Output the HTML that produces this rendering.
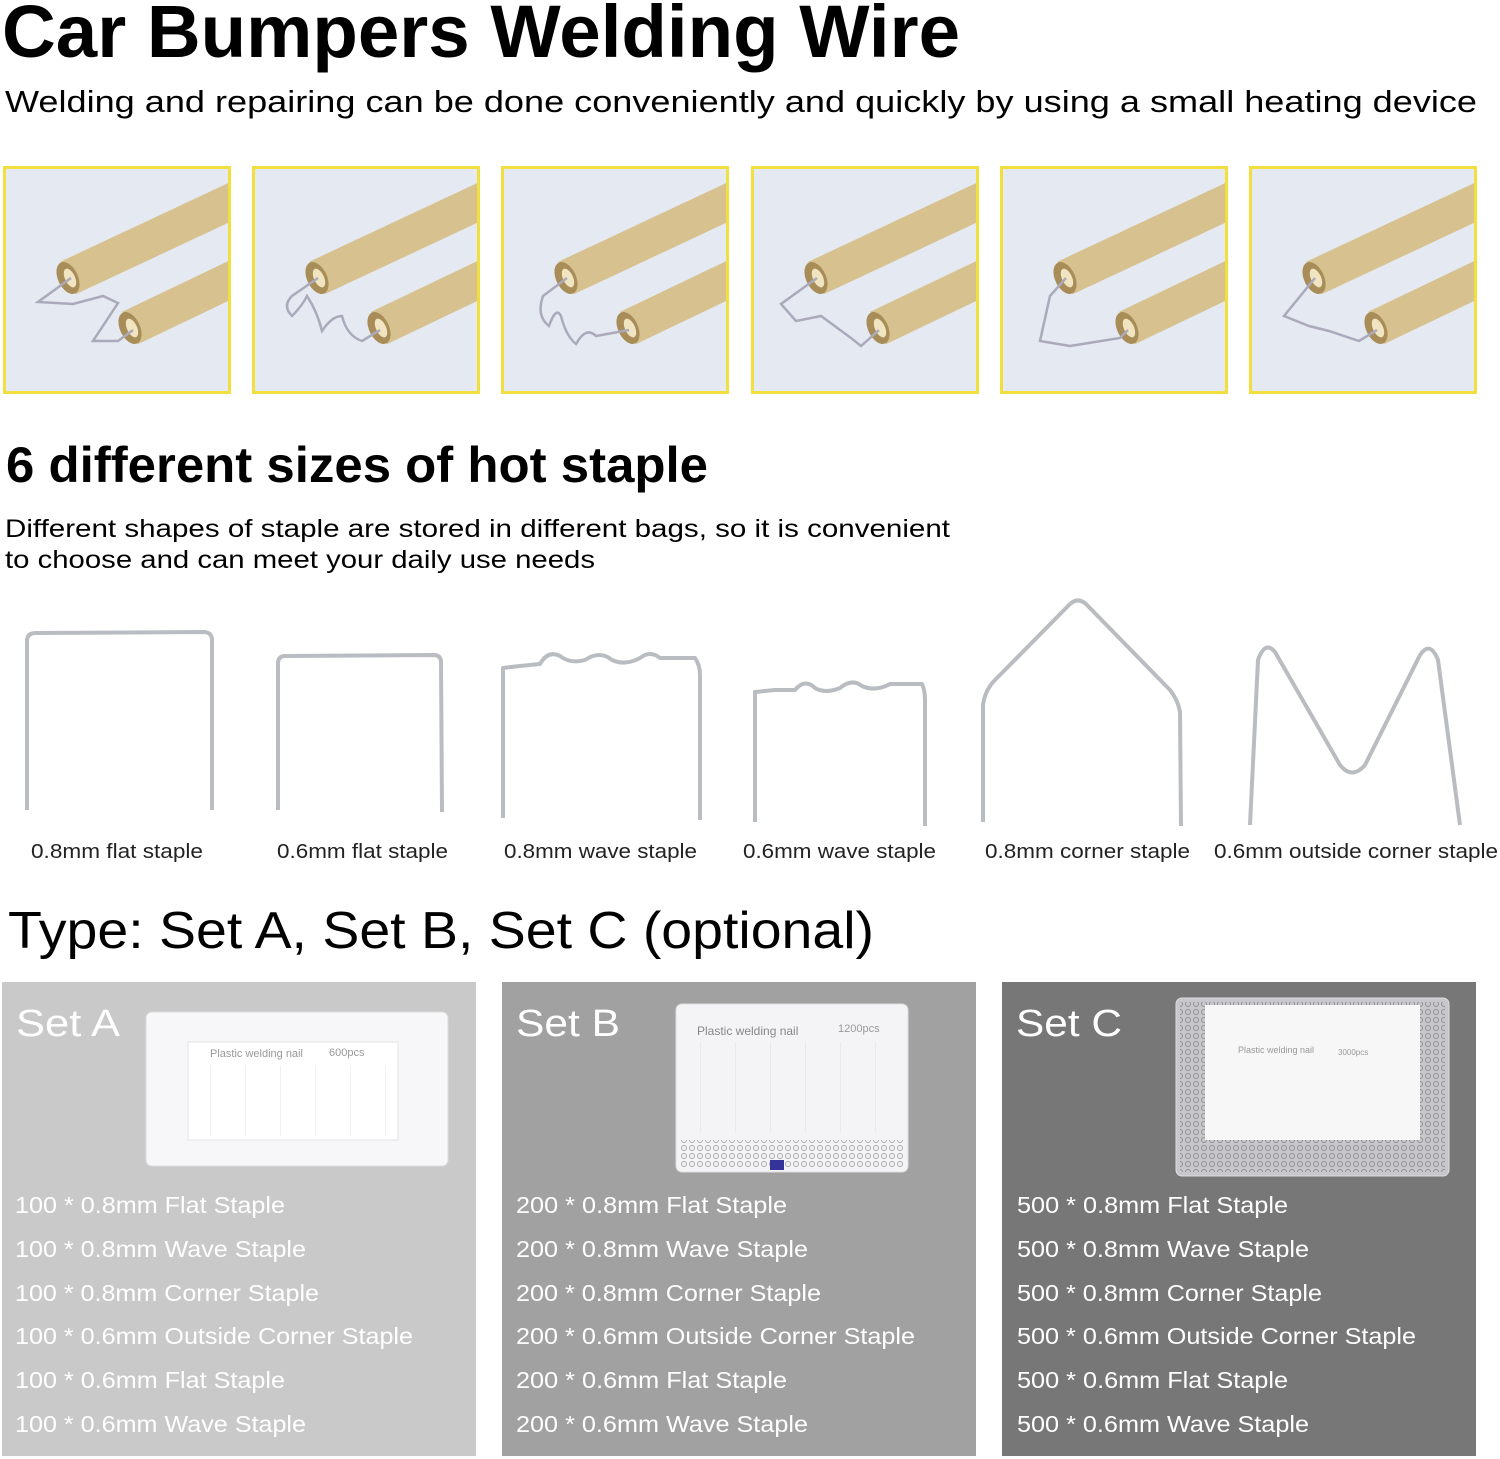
<!DOCTYPE html>
<html><head><meta charset="utf-8"><style>
body{margin:0;background:#fff;width:1500px;height:1459px;overflow:hidden}
svg{display:block}
text{font-family:"Liberation Sans",sans-serif}
</style></head><body>
<svg width="1500" height="1459" viewBox="0 0 1500 1459" xmlns="http://www.w3.org/2000/svg">
<defs>
<g id="rods">
<line x1="65" y1="112" x2="240" y2="30" stroke="#d6c18f" stroke-width="36"/>
<ellipse cx="65" cy="112" rx="10" ry="17" transform="rotate(-25 65 112)" fill="#a88d58"/>
<ellipse cx="67" cy="112" rx="5" ry="10" transform="rotate(-25 67 112)" fill="#f1e4c0"/>
<line x1="127" y1="162" x2="240" y2="108" stroke="#d6c18f" stroke-width="36"/>
<ellipse cx="127" cy="162" rx="10" ry="17" transform="rotate(-25 127 162)" fill="#a88d58"/>
<ellipse cx="129" cy="162" rx="5" ry="10" transform="rotate(-25 129 162)" fill="#f1e4c0"/>
</g>
<clipPath id="tc"><rect x="0" y="0" width="228" height="228"/></clipPath>
<pattern id="cols" width="35" height="100" patternUnits="userSpaceOnUse"><line x1="0" y1="0" x2="0" y2="100" stroke="#e0e0e0"/></pattern>
<pattern id="nails" width="8" height="8" patternUnits="userSpaceOnUse"><circle cx="4" cy="4" r="2.5" fill="none" stroke="#777" stroke-width="1"/></pattern>
</defs>

<text x="2" y="57" font-size="74" font-weight="bold" textLength="958" lengthAdjust="spacingAndGlyphs">Car Bumpers Welding Wire</text>
<text x="5" y="112" font-size="31" textLength="1472" lengthAdjust="spacingAndGlyphs">Welding and repairing can be done conveniently and quickly by using a small heating device</text>

<g>
<g transform="translate(3,166)"><rect width="228" height="228" fill="#e5e9f2"/><g clip-path="url(#tc)"><use href="#rods"/><path d="M68 112 L35 136 L70 138 L100 130 L115 137 L90 175 L115 175 L130 164" fill="none" stroke="#aab" stroke-width="2.5"/></g><rect x="1.5" y="1.5" width="225" height="225" fill="none" stroke="#f0df3c" stroke-width="3"/></g>
<g transform="translate(252,166)"><rect width="228" height="228" fill="#e5e9f2"/><g clip-path="url(#tc)"><use href="#rods"/><path d="M66 112 L40 130 Q30 140 40 150 Q50 140 55 130 Q65 145 70 165 Q80 150 90 150 Q95 170 110 175 L128 164" fill="none" stroke="#aab" stroke-width="2.5"/></g><rect x="1.5" y="1.5" width="225" height="225" fill="none" stroke="#f0df3c" stroke-width="3"/></g>
<g transform="translate(501,166)"><rect width="228" height="228" fill="#e5e9f2"/><g clip-path="url(#tc)"><use href="#rods"/><path d="M66 112 L42 130 Q35 150 48 160 Q55 140 60 150 Q65 170 75 178 Q85 160 95 170 L128 164" fill="none" stroke="#aab" stroke-width="2.5"/></g><rect x="1.5" y="1.5" width="225" height="225" fill="none" stroke="#f0df3c" stroke-width="3"/></g>
<g transform="translate(751,166)"><rect width="228" height="228" fill="#e5e9f2"/><g clip-path="url(#tc)"><use href="#rods"/><path d="M66 112 L30 138 L45 155 L70 150 L100 172 L110 180 L128 164" fill="none" stroke="#aab" stroke-width="2.5"/></g><rect x="1.5" y="1.5" width="225" height="225" fill="none" stroke="#f0df3c" stroke-width="3"/></g>
<g transform="translate(1000,166)"><rect width="228" height="228" fill="#e5e9f2"/><g clip-path="url(#tc)"><use href="#rods"/><path d="M66 112 L50 130 L40 175 L70 180 L120 172 L128 164" fill="none" stroke="#aab" stroke-width="2.5"/></g><rect x="1.5" y="1.5" width="225" height="225" fill="none" stroke="#f0df3c" stroke-width="3"/></g>
<g transform="translate(1249,166)"><rect width="228" height="228" fill="#e5e9f2"/><g clip-path="url(#tc)"><use href="#rods"/><path d="M66 112 L35 150 L60 160 L80 165 L110 175 L128 164" fill="none" stroke="#aab" stroke-width="2.5"/></g><rect x="1.5" y="1.5" width="225" height="225" fill="none" stroke="#f0df3c" stroke-width="3"/></g>
</g>

<text x="6" y="482" font-size="50" font-weight="bold" textLength="702" lengthAdjust="spacingAndGlyphs">6 different sizes of hot staple</text>
<text x="5" y="537" font-size="25" textLength="945" lengthAdjust="spacingAndGlyphs">Different shapes of staple are stored in different bags, so it is convenient</text>
<text x="5" y="568" font-size="25" textLength="590" lengthAdjust="spacingAndGlyphs">to choose and can meet your daily use needs</text>

<g fill="none" stroke="#b9bcc0" stroke-width="4" stroke-linejoin="round">
<path d="M27 810 L27 640 Q28 633 35 633 L205 632 Q212 633 212 640 L212 810"/>
<path d="M278 810 L278 662 Q279 656 285 656 L435 655 Q441 656 441 662 L442 812"/>
<path d="M503 818 L503 668 L520 666 L540 664 Q548 650 560 656 Q570 664 585 660 Q600 650 612 660 Q625 666 640 658 Q650 650 660 658 L695 658 Q700 665 700 675 L700 820"/>
<path d="M755 822 L755 692 L775 690 L795 690 Q805 678 815 688 Q825 694 840 688 Q852 678 862 686 Q875 692 890 684 L922 684 Q925 690 925 700 L925 826"/>
<path d="M983 822 L983 705 Q985 690 995 680 L1070 604 Q1078 597 1086 604 L1170 690 Q1178 700 1180 712 L1181 826"/>
<path d="M1250 825 L1258 660 Q1265 640 1275 652 L1340 765 Q1352 780 1365 765 L1420 655 Q1430 640 1438 660 L1460 825"/>
</g>
<g font-size="20" fill="#222">
<text x="31" y="858" textLength="172" lengthAdjust="spacingAndGlyphs">0.8mm flat staple</text>
<text x="277" y="858" textLength="171" lengthAdjust="spacingAndGlyphs">0.6mm flat staple</text>
<text x="504" y="858" textLength="193" lengthAdjust="spacingAndGlyphs">0.8mm wave staple</text>
<text x="743" y="858" textLength="193" lengthAdjust="spacingAndGlyphs">0.6mm wave staple</text>
<text x="985" y="858" textLength="205" lengthAdjust="spacingAndGlyphs">0.8mm corner staple</text>
<text x="1214" y="858" textLength="284" lengthAdjust="spacingAndGlyphs">0.6mm outside corner staple</text>
</g>

<text x="8" y="948" font-size="52" textLength="866" lengthAdjust="spacingAndGlyphs">Type: Set A, Set B, Set C (optional)</text>

<rect x="2" y="982" width="474" height="474" fill="#c9c9c9"/>
<rect x="502" y="982" width="474" height="474" fill="#a1a1a1"/>
<rect x="1002" y="982" width="474" height="474" fill="#777"/>

<rect x="146" y="1012" width="302" height="154" rx="6" fill="#f7f7f9" stroke="#ddd"/>
<rect x="188" y="1042" width="210" height="98" fill="#fff" stroke="#e3e3e3"/>
<rect x="198" y="1066" width="210" height="70" fill="url(#cols)"/>
<text x="210" y="1057" font-size="11" fill="#999">Plastic welding nail</text><text x="329" y="1056" font-size="11" fill="#999">600pcs</text>
<rect x="676" y="1004" width="232" height="168" rx="6" fill="#f4f4f6" stroke="#ddd"/>
<rect x="680" y="1140" width="224" height="28" fill="url(#nails)" opacity="0.6"/>
<rect x="686" y="1042" width="220" height="90" fill="url(#cols)"/>
<rect x="770" y="1160" width="14" height="10" fill="#33339a"/>
<text x="697" y="1035" font-size="12" fill="#888">Plastic welding nail</text><text x="838" y="1032" font-size="11" fill="#999">1200pcs</text>
<rect x="1176" y="998" width="273" height="178" rx="6" fill="#c8c8cc" stroke="#ddd"/>
<rect x="1180" y="1002" width="265" height="170" fill="url(#nails)" opacity="0.7"/>
<rect x="1205" y="1005" width="215" height="135" fill="#f7f7f7"/>
<text x="1238" y="1053" font-size="9" fill="#999">Plastic welding nail</text><text x="1338" y="1055" font-size="8" fill="#999">3000pcs</text>

<g fill="#fff" font-size="38">
<text x="16" y="1036" textLength="104" lengthAdjust="spacingAndGlyphs">Set A</text>
<text x="516" y="1036" textLength="104" lengthAdjust="spacingAndGlyphs">Set B</text>
<text x="1016" y="1036" textLength="106" lengthAdjust="spacingAndGlyphs">Set C</text>
</g>
<g fill="#fff" font-size="23">
<text x="15" y="1213" textLength="270" lengthAdjust="spacingAndGlyphs">100 * 0.8mm Flat Staple</text>
<text x="15" y="1257" textLength="291" lengthAdjust="spacingAndGlyphs">100 * 0.8mm Wave Staple</text>
<text x="15" y="1301" textLength="304" lengthAdjust="spacingAndGlyphs">100 * 0.8mm Corner Staple</text>
<text x="15" y="1344" textLength="398" lengthAdjust="spacingAndGlyphs">100 * 0.6mm Outside Corner Staple</text>
<text x="15" y="1388" textLength="270" lengthAdjust="spacingAndGlyphs">100 * 0.6mm Flat Staple</text>
<text x="15" y="1432" textLength="291" lengthAdjust="spacingAndGlyphs">100 * 0.6mm Wave Staple</text>
<text x="516" y="1213" textLength="271" lengthAdjust="spacingAndGlyphs">200 * 0.8mm Flat Staple</text>
<text x="516" y="1257" textLength="292" lengthAdjust="spacingAndGlyphs">200 * 0.8mm Wave Staple</text>
<text x="516" y="1301" textLength="305" lengthAdjust="spacingAndGlyphs">200 * 0.8mm Corner Staple</text>
<text x="516" y="1344" textLength="399" lengthAdjust="spacingAndGlyphs">200 * 0.6mm Outside Corner Staple</text>
<text x="516" y="1388" textLength="271" lengthAdjust="spacingAndGlyphs">200 * 0.6mm Flat Staple</text>
<text x="516" y="1432" textLength="292" lengthAdjust="spacingAndGlyphs">200 * 0.6mm Wave Staple</text>
<text x="1017" y="1213" textLength="271" lengthAdjust="spacingAndGlyphs">500 * 0.8mm Flat Staple</text>
<text x="1017" y="1257" textLength="292" lengthAdjust="spacingAndGlyphs">500 * 0.8mm Wave Staple</text>
<text x="1017" y="1301" textLength="305" lengthAdjust="spacingAndGlyphs">500 * 0.8mm Corner Staple</text>
<text x="1017" y="1344" textLength="399" lengthAdjust="spacingAndGlyphs">500 * 0.6mm Outside Corner Staple</text>
<text x="1017" y="1388" textLength="271" lengthAdjust="spacingAndGlyphs">500 * 0.6mm Flat Staple</text>
<text x="1017" y="1432" textLength="292" lengthAdjust="spacingAndGlyphs">500 * 0.6mm Wave Staple</text>
</g>
</svg>
</body></html>
